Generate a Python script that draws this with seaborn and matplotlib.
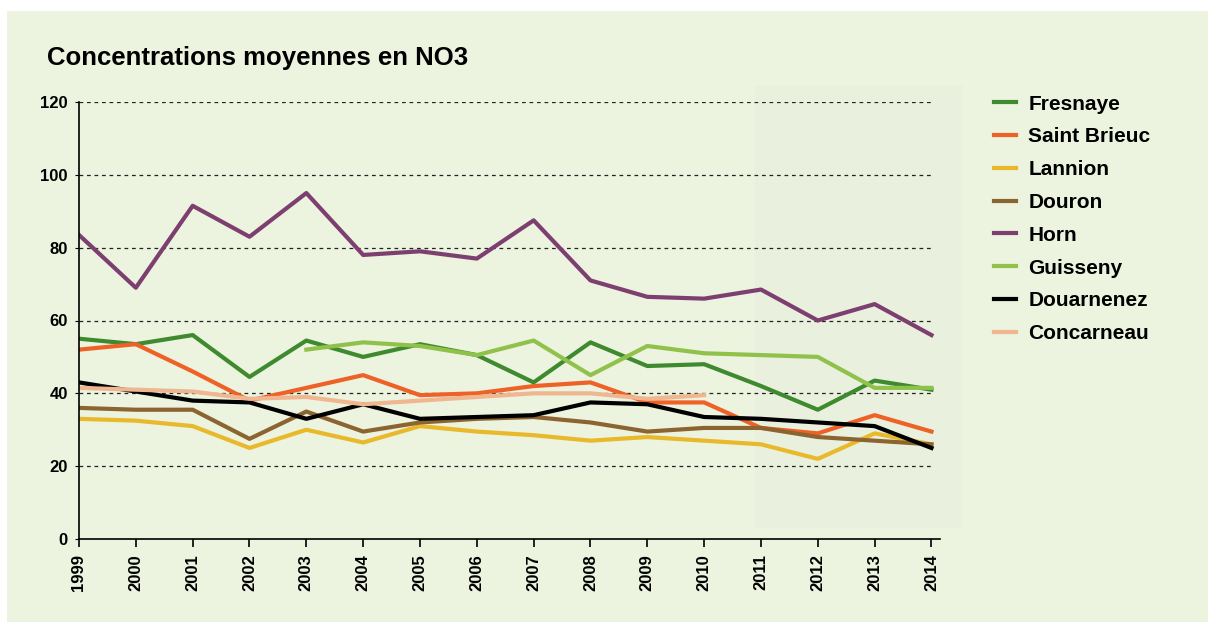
# Concentrations moyennes en NO3 - line chart per station
import matplotlib.pyplot as plt
import matplotlib.patches as mpatches
import numpy as np
import pandas as pd
import seaborn as sns

years = list(range(1999, 2015))
nan = np.nan

fresnaye = [55, 53.5, 56, 44.5, 54.5, 50, 53.5, 50.5, 43, 54, 47.5, 48, 42, 35.5, 43.5, 41]
saint_brieuc = [52, 53.5, 46, 38, 41.5, 45, 39.5, 40, 42, 43, 37.5, 37.5, 30.5, 29, 34, 29.5]
lannion = [33, 32.5, 31, 25, 30, 26.5, 31, 29.5, 28.5, 27, 28, 27, 26, 22, 29, 26]
douron = [36, 35.5, 35.5, 27.5, 35, 29.5, 32, 33, 33.5, 32, 29.5, 30.5, 30.5, 28, 27, 26]
horn = [83.5, 69, 91.5, 83, 95, 78, 79, 77, 87.5, 71, 66.5, 66, 68.5, 60, 64.5, 56]
guisseny = [nan, nan, nan, nan, 52, 54, 53, 50.5, 54.5, 45, 53, 51, 50.5, 50, 41.5, 41.5]
douarnenez = [43, 40.5, 38, 37.5, 33, 37, 33, 33.5, 34, 37.5, 37, 33.5, 33, 32, 31, 25]
concarneau = [41.5, 41, 40.5, 38.5, 39, 37, 38, 39, 40, 40, 38.5, 39.5, nan, nan, nan, nan]

stations = ["Fresnaye", "Saint Brieuc", "Lannion", "Douron", "Horn",
            "Guisseny", "Douarnenez", "Concarneau"]
series = [fresnaye, saint_brieuc, lannion, douron, horn,
          guisseny, douarnenez, concarneau]
colors = ["#3f8a2f", "#ee6127", "#e8b92a", "#8c6430", "#7d3f6f",
          "#8fc14b", "#000000", "#efb690"]

df = pd.concat([pd.DataFrame({"annee": years, "no3": vals, "station": name})
                for name, vals in zip(stations, series)])
df = df.dropna()

bg = "#ecf3df"
plt.rcParams['font.family'] = ['Liberation Sans', 'DejaVu Sans']
plt.rcParams['font.weight'] = 'bold'

fig = plt.figure(figsize=(12.15, 6.31), dpi=100, facecolor="white")
# green panel
fig.patches.append(mpatches.Rectangle((7 / 1215, 1 - 622 / 631), 1201 / 1215, 611 / 631,
                                      transform=fig.transFigure, facecolor=bg,
                                      edgecolor="none", zorder=-3))
# slightly greyer scanned patch on the right
fig.patches.append(mpatches.Rectangle((755 / 1215, 1 - 528 / 631), 208 / 1215, 442 / 631,
                                      transform=fig.transFigure, facecolor="#e9f0de",
                                      edgecolor="none", zorder=-2))

ax = fig.add_axes([79 / 1215, 1 - 539 / 631, 861 / 1215, 437 / 631])
ax.set_facecolor("none")

sns.lineplot(data=df, x="annee", y="no3", hue="station", hue_order=stations,
             palette=colors, linewidth=3, ax=ax, sort=True, estimator=None)

ax.set_xlim(1999, 2014.15)
ax.set_ylim(0, 120)
ax.set_xticks(years)
ax.set_xticklabels([str(y) for y in years], rotation=90, fontsize=12, fontweight='bold')
ax.set_yticks([0, 20, 40, 60, 80, 100, 120])
ax.set_yticklabels(["0", "20", "40", "60", "80", "100", "120"], fontsize=12, fontweight='bold')
ax.tick_params(axis='x', direction='out', length=6, width=1.2, pad=5)
ax.tick_params(axis='y', direction='out', length=3, width=0.8, pad=5)
for y in [20, 40, 60, 80, 100, 120]:
    ax.plot([1999, 2014], [y, y], color="#222222", linestyle=(0, (3, 3)),
            linewidth=0.9, zorder=0.8)
for s in ["top", "right"]:
    ax.spines[s].set_visible(False)
ax.spines["left"].set_linewidth(1.2)
ax.spines["bottom"].set_linewidth(1.2)
ax.set_xlabel("")
ax.set_ylabel("")

handles, labels = ax.get_legend_handles_labels()
ax.get_legend().remove()
fig.legend(handles, labels, loc="upper left", bbox_to_anchor=(975 / 1215, 1 - 76 / 631),
           frameon=False, handlelength=1.05, handletextpad=0.6,
           labelspacing=0.66, prop={'weight': 'bold', 'size': 15})

fig.text(47 / 1215, 1 - 58 / 631, "Concentrations moyennes en NO3", fontsize=18.5,
         fontweight='bold', va='center', ha='left')

fig.savefig("out.png", dpi=100, facecolor="white")
